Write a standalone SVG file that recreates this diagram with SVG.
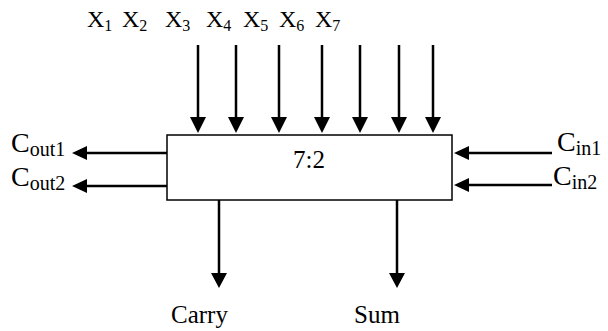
<svg xmlns="http://www.w3.org/2000/svg" width="608" height="331" viewBox="0 0 608 331">
<style>
text{font-family:"Liberation Serif","Times New Roman",serif;fill:#000}
.m{font-size:24px}
.s{font-size:16px}
.t{font-size:25px}
.c{font-size:28px}
.cs{font-size:20px}
.ln{stroke:#000;stroke-width:2.5;fill:none}
.hd{fill:#000;stroke:none}
</style>
<rect width="608" height="331" fill="#fff"/>
<g id="adder">
<rect x="167" y="135" width="285" height="65" fill="#fff" stroke="#000" stroke-width="1.5"/>
<text class="t" x="309" y="168" text-anchor="middle">7:2</text>
</g>
<g id="inputs-x">
<text class="m" x="87" y="27">X<tspan class="s" dy="4">1</tspan></text>
<text class="m" x="122" y="27">X<tspan class="s" dy="4">2</tspan></text>
<text class="m" x="165" y="27">X<tspan class="s" dy="4">3</tspan></text>
<text class="m" x="206" y="27">X<tspan class="s" dy="4">4</tspan></text>
<text class="m" x="243" y="27">X<tspan class="s" dy="4">5</tspan></text>
<text class="m" x="279" y="27">X<tspan class="s" dy="4">6</tspan></text>
<text class="m" x="315" y="27">X<tspan class="s" dy="4">7</tspan></text>
</g>
<g id="cout1"><text class="c" x="11" y="152">C<tspan class="cs" dy="4">out1</tspan></text></g>
<g id="cout2"><text class="c" x="11" y="186">C<tspan class="cs" dy="4">out2</tspan></text></g>
<g id="cin1"><text class="c" x="557" y="151">C<tspan class="cs" dy="4">in1</tspan></text></g>
<g id="cin2"><text class="c" x="553" y="185">C<tspan class="cs" dy="4">in2</tspan></text></g>
<g id="carry"><text class="t" x="171" y="323">Carry</text></g>
<g id="sum"><text class="t" x="354" y="323">Sum</text></g>
<g id="connectors">
<path class="ln" d="M198 45V118M236 45V118M279 45V118M322 45V118M360 45V118M399 45V118M433 45V118"/>
<path class="hd" d="M190 117h16l-8 16zM228 117h16l-8 16zM271 117h16l-8 16zM314 117h16l-8 16zM352 117h16l-8 16zM391 117h16l-8 16zM425 117h16l-8 16z"/>
<path class="ln" d="M167 153H86M167 186H86"/>
<path class="hd" d="M87 146v14l-15 -7zM87 179v14l-15 -7z"/>
<path class="ln" d="M552 153H468M552 185H468"/>
<path class="hd" d="M469 146v14l-15 -7zM469 178v14l-15 -7z"/>
<path class="ln" d="M219 200V274M397 200V274"/>
<path class="hd" d="M211 273h16l-8 15zM389 273h16l-8 15z"/>
</g>
</svg>
